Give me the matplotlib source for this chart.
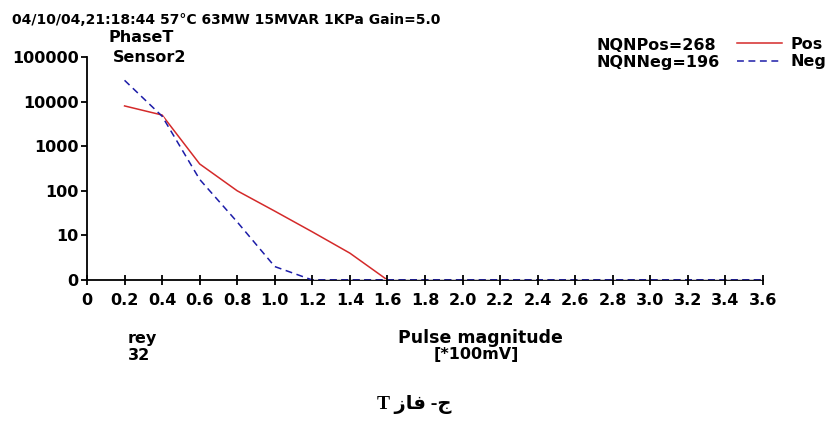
import numpy as np
import matplotlib
matplotlib.use("Agg")
import matplotlib.pyplot as plt
from matplotlib.lines import Line2D

# data
x_vals = [0.2, 0.4, 0.6, 0.8, 1.0, 1.2, 1.4, 1.6, 1.8, 2.0,
          2.2, 2.4, 2.6, 2.8, 3.0, 3.2, 3.4, 3.6]
pos_vals = [8000, 5000, 400, 100, 35, 12, 4, 0]
neg_vals = [30000, 4700, 180, 20, 2, 0, 0, 0, 0, 0,
            0, 0, 0, 0, 0, 0, 0, 0]
y_ticks = [0, 10, 100, 1000, 10000, 100000]
x_ticks = [0, 0.2, 0.4, 0.6, 0.8, 1.0, 1.2, 1.4, 1.6, 1.8, 2.0,
           2.2, 2.4, 2.6, 2.8, 3.0, 3.2, 3.4, 3.6]

RED = "#d42a2a"
BLUE = "#1c1ca8"
W, H = 827, 425
FONT = "DejaVu Sans"


def fx(px):
    return px / W


def fy(py):
    return 1 - py / H


def fwd(v):
    return np.log10(np.clip(v, 1, None))


def inv(v):
    return 10 ** v


fig = plt.figure(figsize=(W / 100, H / 100), dpi=100)
fig.set_facecolor("white")
ax = fig.add_axes([fx(87), fy(280), fx(763) - fx(87), fy(57) - fy(280)])

ax.set_yscale("function", functions=(fwd, inv))
ax.set_xlim(0, 3.6)
ax.set_ylim(0, 100000)

ax.plot(x_vals[:len(pos_vals)], pos_vals, color=RED, lw=1.1, zorder=2.6)
ax.plot(x_vals, neg_vals, color=BLUE, lw=1.1, dashes=(4.5, 3),
        gapcolor="white", zorder=2.7)

for s in ("top", "right"):
    ax.spines[s].set_visible(False)
for s in ("left", "bottom"):
    ax.spines[s].set_linewidth(1.3)
    ax.spines[s].set_color("black")
ax.xaxis.set_zorder(3)

ax.set_xticks(x_ticks)
ax.set_xticklabels([f"{t:.1f}" if t else "0" for t in x_ticks])
ax.set_yticks(y_ticks)
ax.set_yticklabels([str(t) for t in y_ticks])
ax.yaxis.set_minor_locator(matplotlib.ticker.NullLocator())
ax.tick_params(axis="x", direction="inout", length=7, width=1.3, pad=6,
               labelsize=11.5)
ax.tick_params(axis="y", direction="out", length=4, width=1.3, pad=2,
               labelsize=11.5)
for lab in ax.get_xticklabels() + ax.get_yticklabels():
    lab.set_fontweight("bold")
    lab.set_family(FONT)

txt = dict(fontsize=11.5, fontweight="bold", family=FONT, va="center")
fig.text(fx(12), fy(20), "04/10/04,21:18:44 57\u00b0C 63MW 15MVAR 1KPa Gain=5.0",
         ha="left", fontsize=10, fontweight="bold", family=FONT, va="center")
fig.text(fx(109), fy(38), "PhaseT", ha="left", **txt)
fig.text(fx(113), fy(57), "Sensor2", ha="left", **txt)
fig.text(fx(596), fy(45), "NQNPos=268", ha="left", **txt)
fig.text(fx(596), fy(63), "NQNNeg=196", ha="left", **txt)
fig.text(fx(128), fy(338), "rey", ha="left", **txt)
fig.text(fx(128), fy(355), "32", ha="left", **txt)
fig.text(fx(480), fy(338), "Pulse magnitude", ha="center", fontsize=12.5,
         fontweight="bold", family=FONT, va="center")
fig.text(fx(476), fy(355), "[*100mV]", ha="center", **txt)

handles = [Line2D([], [], color=RED, lw=1.1),
           Line2D([], [], color=BLUE, lw=1.1, dashes=(4.5, 3))]
fig.legend(handles, ["Pos", "Neg"], loc="upper right",
           bbox_to_anchor=(fx(826), fy(37)), frameon=False,
           prop=dict(family=FONT, weight="bold", size=11.5),
           handlelength=2.8, handletextpad=0.5, labelspacing=0.15,
           borderpad=0, borderaxespad=0)

# caption in visual order with Arabic presentation forms
fig.text(fx(414), fy(405), "T \ufeaf\ufe8e\ufed3 -\ufe9d", ha="center",
         va="center", fontsize=14, fontweight="bold",
         family=["Liberation Serif", "DejaVu Sans"])

fig.savefig("out.png", dpi=100, facecolor="white")
